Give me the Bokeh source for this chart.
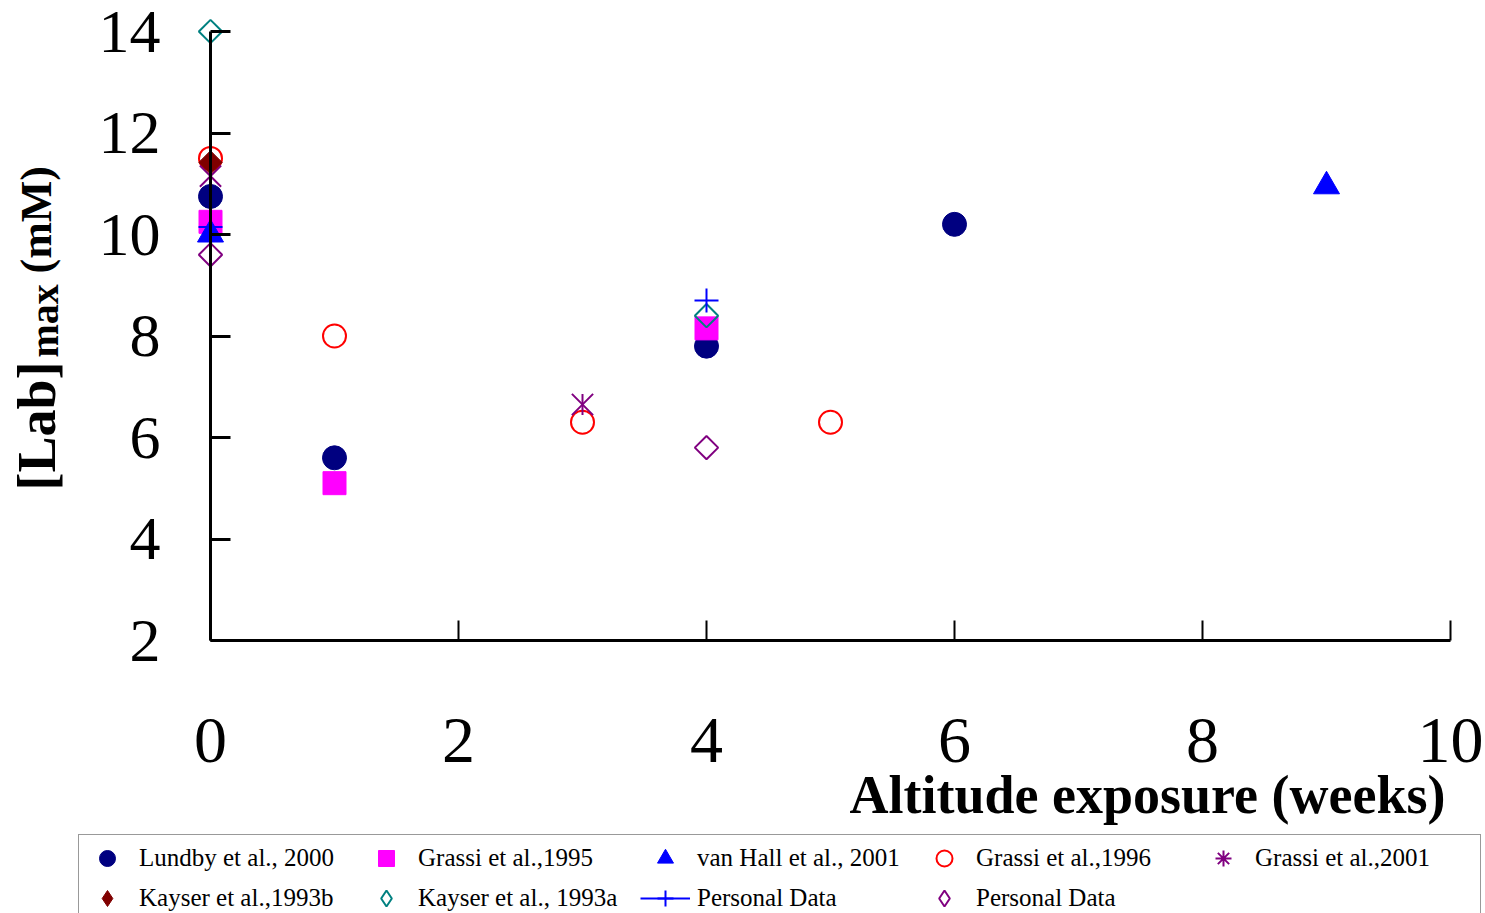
import math
from bokeh.plotting import figure
from bokeh.models import Range1d, FixedTicker, Label, Legend, LegendItem
from bokeh.embed import file_html
from bokeh.resources import INLINE

# ---------------- data ----------------
x_ticks = [0, 2, 4, 6, 8, 10]
y_ticks = [2, 4, 6, 8, 10, 12, 14]

lundby_x = [0, 1, 4, 6]
lundby_y = [10.75, 5.6, 7.8, 10.2]

grassi95_x = [0, 1, 4]
grassi95_y = [10.25, 5.1, 8.15]

vanhall_x = [0, 9]
vanhall_y = [10.0, 10.95]

grassi96_x = [0, 1, 3, 5]
grassi96_y = [11.5, 8.0, 6.3, 6.3]

grassi01_x = [0, 3]
grassi01_y = [11.15, 6.65]

kayser93b_x = [0]
kayser93b_y = [11.42]

kayser93a_x = [0, 4]
kayser93a_y = [14.0, 8.4]

personal_cross_x = [0, 4]
personal_cross_y = [10.15, 8.7]

personal_diam_x = [0, 4]
personal_diam_y = [9.6, 5.8]

labels = ["Lundby et al., 2000", "Grassi et al.,1995", "van Hall et al., 2001",
          "Grassi et al.,1996", "Grassi et al.,2001", "Kayser et al.,1993b",
          "Kayser et al., 1993a", "Personal Data", "Personal Data"]

# ---------------- layout (pixel geometry of the frame) ----------------
W, H = 1485, 913
X0_PX, X10_PX = 210, 1450      # pixel of first / last x tick
Y0_PX, Y1_PX = 640, 31         # pixel of first / last y tick
px_per_x = (X10_PX - X0_PX) / (x_ticks[-1] - x_ticks[0])
px_per_y = (Y0_PX - Y1_PX) / (y_ticks[-1] - y_ticks[0])

x_start = x_ticks[0] - X0_PX / px_per_x
x_end = x_ticks[0] + (W - X0_PX) / px_per_x
y_start = y_ticks[0] - (H - Y0_PX) / px_per_y
y_end = y_ticks[0] + Y0_PX / px_per_y

SERIF = "Liberation Serif"

p = figure(width=W, height=H, output_backend="svg", toolbar_location=None,
           x_range=Range1d(x_start, x_end), y_range=Range1d(y_start, y_end),
           min_border=0, min_border_left=0, min_border_right=0,
           min_border_top=0, min_border_bottom=0)
p.title.visible = False
p.outline_line_color = None
p.xgrid.visible = False
p.ygrid.visible = False
p.background_fill_color = "white"
p.border_fill_color = "white"

# x axis, drawn at y = first y tick
xa = p.xaxis[0]
xa.fixed_location = y_ticks[0]
xa.ticker = FixedTicker(ticks=x_ticks)
xa.bounds = (x_ticks[0], x_ticks[-1])
xa.axis_line_width = 3
xa.axis_line_color = "black"
xa.major_tick_in = 20
xa.major_tick_out = 0
xa.major_tick_line_width = 2
xa.minor_tick_line_color = None
xa.major_label_standoff = 78
xa.major_label_text_font = SERIF
xa.major_label_text_font_size = "66px"
xa.major_label_text_color = "black"

# y axis, drawn at x = first x tick
ya = p.yaxis[0]
ya.fixed_location = x_ticks[0]
ya.ticker = FixedTicker(ticks=y_ticks)
ya.bounds = (y_ticks[0], y_ticks[-1])
ya.axis_line_width = 3
ya.axis_line_color = "black"
ya.major_tick_in = 20
ya.major_tick_out = 0
ya.major_tick_line_width = 3
ya.minor_tick_line_color = None
ya.major_label_standoff = 50
ya.major_label_text_font = SERIF
ya.major_label_text_font_size = "62px"
ya.major_label_text_color = "black"

# ---------------- series ----------------
NAVY, MAG, BLUE, RED, PURP, DRED, TEAL = ("#000080", "#FF00FF", "#0000FF", "#FF0000",
                                         "#800080", "#800000", "#008080")

r_lundby = p.scatter(lundby_x, lundby_y, marker="circle", size=24,
                     fill_color=NAVY, line_color=NAVY)
r_g95 = p.scatter(grassi95_x, grassi95_y, marker="square", size=23,
                  fill_color=MAG, line_color=MAG)
r_vh = p.scatter(vanhall_x, vanhall_y, marker="triangle", size=26,
                 fill_color=BLUE, line_color=BLUE)
r_g96 = p.scatter(grassi96_x, grassi96_y, marker="circle", size=23,
                  fill_color=None, line_color=RED, line_width=2)
r_g01a = p.scatter(grassi01_x, grassi01_y, marker="x", size=30,
                   line_color=PURP, line_width=2)
r_g01b = p.scatter(grassi01_x, grassi01_y, marker="dash", size=21, angle=math.pi / 2,
                   line_color=PURP, line_width=2)
# legend-only glyphs (zero size in the plot; the legend draws its own size)
r_g01_leg = p.scatter(grassi01_x, grassi01_y, marker="asterisk", size=0,
                      line_color=PURP, line_width=2)
r_k93b = p.scatter(kayser93b_x, kayser93b_y, marker="square", size=16.5, angle=math.pi / 4,
                   fill_color=DRED, line_color=DRED)
r_k93b_leg = p.scatter(kayser93b_x, kayser93b_y, marker="diamond", size=0,
                       fill_color=DRED, line_color=DRED)
r_k93a = p.scatter(kayser93a_x, kayser93a_y, marker="square", size=16.5, angle=math.pi / 4,
                   fill_color=None, line_color=TEAL, line_width=2)
r_k93a_leg = p.scatter(kayser93a_x, kayser93a_y, marker="diamond", size=0,
                       fill_color=None, line_color=TEAL, line_width=2)
r_pc_line = p.line(personal_cross_x[:1], personal_cross_y[:1], line_color=BLUE,
                   line_width=2)
r_pc = p.scatter(personal_cross_x, personal_cross_y, marker="cross", size=24,
                 line_color=BLUE, line_width=2)
r_pd = p.scatter(personal_diam_x, personal_diam_y, marker="square", size=16.5,
                 angle=math.pi / 4, fill_color=None, line_color=PURP, line_width=2)
r_pd_leg = p.scatter(personal_diam_x, personal_diam_y, marker="diamond", size=0,
                     fill_color=None, line_color=PURP, line_width=2)

# ---------------- axis titles (screen units, origin bottom-left) ----------------
def label(text, px, py, size, angle=0.0, align="left", style="bold"):
    p.add_layout(Label(x=px, y=H - py, x_units="screen", y_units="screen",
                       text=text, angle=angle, text_align=align,
                       text_baseline="alphabetic", text_font=SERIF,
                       text_font_size=size, text_font_style=style, text_color="black"))

label("Altitude exposure (weeks)", 1445, 794, "54px", align="right")
label("[Lab]", 36, 490, "54px", angle=math.pi / 2)
label("max", 44, 357, "40px", angle=math.pi / 2)
label("(mM)", 36, 273, "44px", angle=math.pi / 2)

# ---------------- legend ----------------
items = [
    LegendItem(label=labels[0], renderers=[r_lundby]),
    LegendItem(label=labels[1], renderers=[r_g95]),
    LegendItem(label=labels[2], renderers=[r_vh]),
    LegendItem(label=labels[3], renderers=[r_g96]),
    LegendItem(label=labels[4], renderers=[r_g01_leg]),
    LegendItem(label=labels[5], renderers=[r_k93b_leg]),
    LegendItem(label=labels[6], renderers=[r_k93a_leg]),
    LegendItem(label=labels[7], renderers=[r_pc_line, r_pc]),
    LegendItem(label=labels[8], renderers=[r_pd_leg]),
]
PAD, GH, GW = 3, 40, 50
leg_h = 2 * PAD + 2 * GH
leg_top, leg_left = 836, 78
legend = Legend(items=items, orientation="horizontal", ncols=5,
                location=(leg_left, H - (leg_top + leg_h)),
                glyph_width=GW, glyph_height=GH, label_standoff=7, label_width=222,
                label_height=GH, spacing=0, padding=PAD, margin=0,
                label_text_font=SERIF, label_text_font_size="25px",
                label_text_color="black", border_line_color="#333333",
                border_line_width=1, background_fill_color="white",
                background_fill_alpha=1.0)
p.add_layout(legend)

open("out.html", "w").write(file_html(p, INLINE))
